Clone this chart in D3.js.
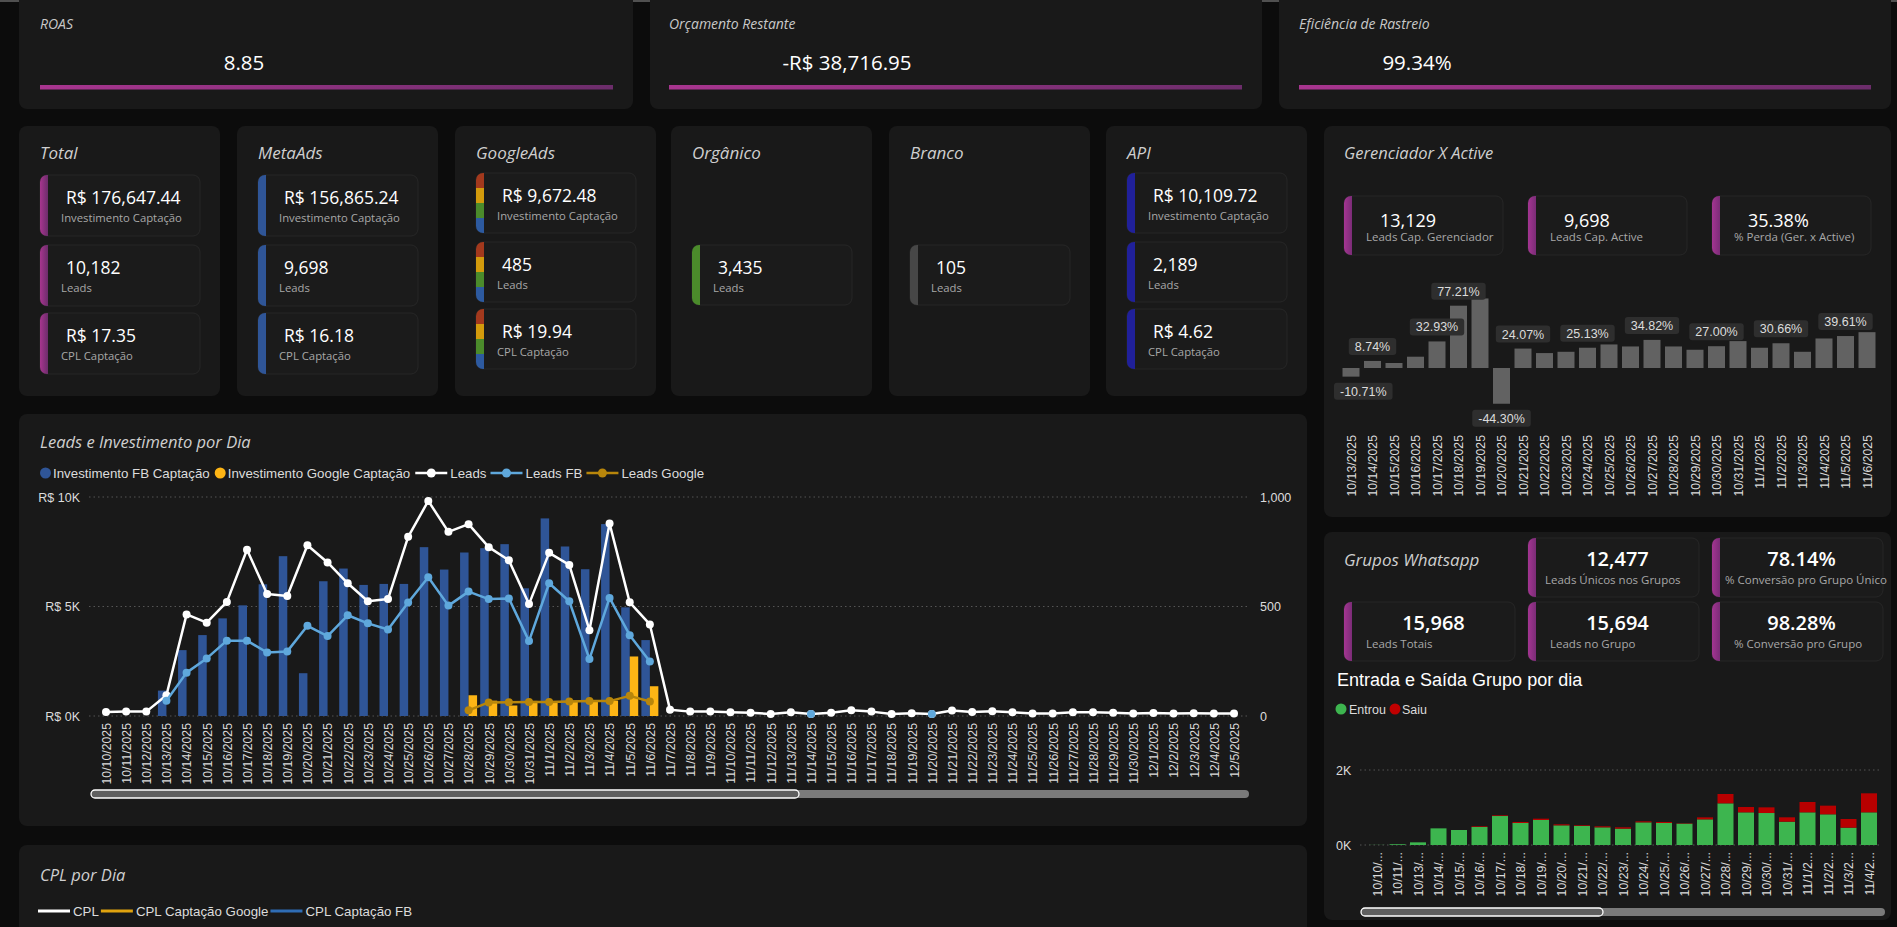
<!DOCTYPE html>
<html><head><meta charset="utf-8">
<script src="https://cdn.jsdelivr.net/npm/d3@7"></script>
<style>
body{margin:0;background:#0c0c0c;overflow:hidden}
svg{display:block}
</style></head><body><svg id="c" width="1897" height="927"></svg>
<script>
// ---------------- DATA ----------------
const topTitles = ["ROAS", "Orçamento Restante", "Eficiência de Rastreio"];
const topValues = ["8.85", "-R$ 38,716.95", "99.34%"];

const sourceNames  = ["Total", "MetaAds", "GoogleAds", "Orgânico", "Branco", "API"];
const sourceInvest = [176647.44, 156865.24, 9672.48, null, null, 10109.72];
const sourceLeads  = [10182, 9698, 485, 3435, 105, 2189];
const sourceCpl    = [17.35, 16.18, 19.94, null, null, 4.62];

const gerKpiValues = ["13,129", "9,698", "35.38%"];
const gerKpiLabels = ["Leads Cap. Gerenciador", "Leads Cap. Active", "% Perda (Ger. x Active)"];
const gerDates = ["10/13/2025","10/14/2025","10/15/2025","10/16/2025","10/17/2025","10/18/2025","10/19/2025","10/20/2025","10/21/2025","10/22/2025","10/23/2025","10/24/2025","10/25/2025","10/26/2025","10/27/2025","10/28/2025","10/29/2025","10/30/2025","10/31/2025","11/1/2025","11/2/2025","11/3/2025","11/4/2025","11/5/2025","11/6/2025"];
const gerPct = [-10.71, 8.74, 6.2, 14.0, 32.93, 77.21, 86.2, -44.30, 24.07, 18.5, 20.1, 25.13, 29.2, 26.7, 34.82, 26.7, 22.6, 27.00, 33.3, 25.1, 30.66, 20.1, 36.6, 39.61, 44.4];
const gerLabelShown = ["10/13/2025","10/14/2025","10/17/2025","10/18/2025","10/20/2025","10/21/2025","10/24/2025","10/27/2025","10/30/2025","11/2/2025","11/5/2025"];

const mainDates = ["10/10/2025","10/11/2025","10/12/2025","10/13/2025","10/14/2025","10/15/2025","10/16/2025","10/17/2025","10/18/2025","10/19/2025","10/20/2025","10/21/2025","10/22/2025","10/23/2025","10/24/2025","10/25/2025","10/26/2025","10/27/2025","10/28/2025","10/29/2025","10/30/2025","10/31/2025","11/1/2025","11/2/2025","11/3/2025","11/4/2025","11/5/2025","11/6/2025","11/7/2025","11/8/2025","11/9/2025","11/10/2025","11/11/2025","11/12/2025","11/13/2025","11/14/2025","11/15/2025","11/16/2025","11/17/2025","11/18/2025","11/19/2025","11/20/2025","11/21/2025","11/22/2025","11/23/2025","11/24/2025","11/25/2025","11/26/2025","11/27/2025","11/28/2025","11/29/2025","11/30/2025","12/1/2025","12/2/2025","12/3/2025","12/4/2025","12/5/2025"];
const leads = [18,20,20,95,464,426,521,759,557,548,780,701,606,524,534,818,982,841,876,771,711,511,745,690,392,879,519,418,29,20,20,17,15,9,17,9,15,26,20,9,12,9,25,18,22,17,11,11,17,17,15,11,14,11,12,11,11];
const leadsFB = [null,null,null,70,198,263,344,344,290,295,412,365,460,423,395,518,634,504,568,534,537,342,606,524,260,539,369,249,null,null,null,null,null,null,null,9,null,null,null,null,null,9,null,null,null,null,null,null,null,null,null,null,null,null,null,null,null];
const leadsGoogle = [null,null,null,null,null,null,null,null,null,null,null,null,null,null,null,null,null,null,26,62,63,64,64,66,68,68,92,66,null,null,null,null,null,null,null,null,null,null,null,null,null,null,null,null,null,null,null,null,null,null,null,null,null,null,null,null,null];
const investFB = [0,0,0,1160,3008,3695,4458,5053,6015,7298,1954,6153,6733,5985,6031,6031,7710,6687,7466,7664,7847,5832,9023,7740,6702,8763,4962,3466,0,0,0,0,0,0,0,0,0,0,0,0,0,0,0,0,0,0,0,0,0,0,0,0,0,0,0,0,0];
const investGoogle = [0,0,0,0,0,0,0,0,0,0,0,0,0,0,0,0,0,0,947,700,480,690,680,700,690,700,2718,1359,0,0,0,0,0,0,0,0,0,0,0,0,0,0,0,0,0,0,0,0,0,0,0,0,0,0,0,0,0];
const mainLeftTicks = [0, 5000, 10000];
const mainRightTicks = [0, 500, 1000];

const waKpiValues = ["12,477", "78.14%", "15,968", "15,694", "98.28%"];
const waKpiLabels = ["Leads Únicos nos Grupos", "% Conversão pro Grupo Único", "Leads Totais", "Leads no Grupo", "% Conversão pro Grupo"];
const groupDates = ["10/10/2025","10/11/2025","10/13/2025","10/14/2025","10/15/2025","10/16/2025","10/17/2025","10/18/2025","10/19/2025","10/20/2025","10/21/2025","10/22/2025","10/23/2025","10/24/2025","10/25/2025","10/26/2025","10/27/2025","10/28/2025","10/29/2025","10/30/2025","10/31/2025","11/1/2025","11/2/2025","11/3/2025","11/4/2025"];
const entrou = [3,20,71,444,400,480,773,587,667,524,507,471,436,604,587,569,684,1111,871,853,622,871,818,462,871];
const saiu   = [0,0,0,0,0,18,18,27,35,27,18,27,36,27,27,10,53,249,142,151,116,276,231,231,507];
const groupTicks = [0, 2000];

const cplLegend = ["CPL", "CPL Captação Google", "CPL Captação FB"];

// ---------------- DRAW ----------------
const svg = d3.select("#c");
const defs = svg.append("defs");
const FONT = "'Open Sans', 'Noto Sans', sans-serif";
const AX = "'Liberation Sans', Arial, sans-serif";
const PURPLE = "url(#pg)";

const g1 = defs.append("linearGradient").attr("id","pg").attr("x1",0).attr("x2",1).attr("y1",0).attr("y2",0);
g1.append("stop").attr("offset",0).attr("stop-color","#a8358f");
g1.append("stop").attr("offset",1).attr("stop-color","#6c2d6b");
const g2 = defs.append("linearGradient").attr("id","pb").attr("x1",0).attr("x2",1).attr("y1",0).attr("y2",0);
g2.append("stop").attr("offset",0).attr("stop-color","#a43592");
g2.append("stop").attr("offset",1).attr("stop-color","#7b2c77");

svg.append("rect").attr("width",1897).attr("height",927).attr("fill","#0c0c0c");
svg.append("rect").attr("width",1897).attr("height",2).attr("fill","#505050");

function card(x,y,w,h){
  svg.append("rect").attr("x",x).attr("y",y).attr("width",w).attr("height",h).attr("rx",8).attr("fill","#191919");
}
function txt(x,y,s,opt={}){
  return svg.append("text").attr("x",x).attr("y",y).text(s)
    .attr("font-family",opt.family||FONT).attr("font-size",opt.size||12)
    .attr("fill",opt.fill||"#fff").attr("font-style",opt.italic?"italic":"normal")
    .attr("font-weight",opt.weight||400).attr("text-anchor",opt.anchor||"start");
}
let clipId = 0;
function kpiBox(x,y,w,h,accent){
  const id = "cl"+(clipId++);
  defs.append("clipPath").attr("id",id).append("rect").attr("x",x).attr("y",y).attr("width",w).attr("height",h).attr("rx",7);
  svg.append("rect").attr("x",x).attr("y",y).attr("width",w).attr("height",h).attr("rx",7).attr("fill","#1b1b1b").attr("stroke","#272727");
  const g = svg.append("g").attr("clip-path",`url(#${id})`);
  if (Array.isArray(accent)) {
    accent.forEach((c,i)=>g.append("rect").attr("x",x).attr("y",y+i*h/accent.length).attr("width",8).attr("height",h/accent.length+0.5).attr("fill",c));
  } else {
    g.append("rect").attr("x",x).attr("y",y).attr("width",8).attr("height",h).attr("fill",accent);
  }
}

// top row
const topCards = [{x:19,w:614,tx:21,vc:244},{x:650,w:612,tx:19,vc:847},{x:1279,w:612,tx:20,vc:1417}];
topCards.forEach((c,i)=>{
  card(c.x,-10,c.w,119);
  txt(c.x+c.tx,29,topTitles[i],{size:14,italic:true,fill:"#c8c8c8"});
  txt(c.vc,70,topValues[i],{size:20.5,anchor:"middle"});
  svg.append("rect").attr("x",c.x+c.tx).attr("y",85).attr("width",c.w-c.tx-20).attr("height",4.5).attr("fill",PURPLE);
});

// source cards
const fmtMoney = v => "R$ " + d3.format(",.2f")(v);
const srcX = [19,237,455,671,889,1106];
const srcAccent = [PURPLE,"#2f5597",["#a3391d","#d39b0c","#4b8b2b","#2d5aa0"],"#4b8b2b","#474747","#20209a"];
sourceNames.forEach((n,i)=>{
  const cx = srcX[i];
  card(cx,126,201,270);
  txt(cx+21,159,n,{size:17,italic:true,fill:"#cfcfcf"});
  const bx = cx+21, bw = 160;
  const items = [];
  if (sourceInvest[i]!=null) items.push([fmtMoney(sourceInvest[i]),"Investimento Captação"]);
  items.push([d3.format(",")(sourceLeads[i]),"Leads"]);
  if (sourceCpl[i]!=null) items.push([fmtMoney(sourceCpl[i]),"CPL Captação"]);
  const tall = (i<2);
  let ys, h;
  if (items.length===1){ ys=[245]; h=60; }
  else if (tall){ ys=[175,245,313]; h=61; }
  else { ys=[173,242,309]; h=60; }
  items.forEach((it,k)=>{
    kpiBox(bx,ys[k],bw,h,srcAccent[i]);
    txt(bx+26,ys[k]+29,it[0],{size:17.5});
    txt(bx+21,ys[k]+47,it[1],{size:11.3,fill:"#a8a8a8"});
  });
});

// Gerenciador X Active
card(1324,126,567,391);
txt(1344,159,"Gerenciador X Active",{size:16.5,italic:true,fill:"#cfcfcf"});
[1344,1528,1712].forEach((bx,i)=>{
  kpiBox(bx,196,159,59,"url(#pb)");
  txt(bx+36,227,gerKpiValues[i],{size:18});
  txt(bx+22,241,gerKpiLabels[i],{size:11.5,fill:"#a8a8a8"});
});
{
  const x = d3.scalePoint().domain(gerDates).range([1351,1867]);
  const y = d3.scaleLinear().domain([-50,100]).range([408.35,287.3]);
  const bw = 17;
  svg.append("g").selectAll("rect").data(gerDates).join("rect")
    .attr("x",d=>x(d)-bw/2).attr("width",bw)
    .attr("y",(d,i)=>y(Math.max(0,gerPct[i])))
    .attr("height",(d,i)=>Math.abs(y(gerPct[i])-y(0)))
    .attr("fill","#626262");
  const lg = svg.append("g");
  gerDates.forEach((d,i)=>{
    if (!gerLabelShown.includes(d)) return;
    const v = gerPct[i];
    const t = lg.append("text").text(v.toFixed(2)+"%").attr("font-family",AX).attr("font-size",12.5).attr("fill","#dcdcdc").attr("text-anchor","middle");
    const tw = t.node().getComputedTextLength()+12, th = 17;
    let cx = Math.max(1334+tw/2, x(d));
    const top = v>=0 ? y(v)-6-th : y(v)+6;
    lg.insert("rect","text").attr("x",cx-tw/2).attr("y",top).attr("width",tw).attr("height",th).attr("rx",3).attr("fill","#2e2e2e");
    t.attr("x",cx).attr("y",top+th/2+4.5);
  });
  const ax = svg.append("g").attr("transform","translate(0,428)")
    .call(d3.axisBottom(x).tickSize(0));
  ax.select(".domain").remove();
  ax.selectAll("text").attr("font-family",AX).attr("font-size",12.3).attr("fill","#dcdcdc")
    .attr("transform","rotate(-90)").attr("text-anchor","end").attr("x",-7).attr("y",0).attr("dy","0.35em");
}

// Leads e Investimento por Dia
card(19,414,1288,412);
txt(40,448,"Leads e Investimento por Dia",{size:16.5,italic:true,fill:"#cfcfcf"});
{
  const lgItems = [
    {t:"Investimento FB Captação",type:"dot",c:"#2f5597"},
    {t:"Investimento Google Captação",type:"dot",c:"#fdb515"},
    {t:"Leads",type:"line",c:"#ffffff"},
    {t:"Leads FB",type:"line",c:"#5fa8dc"},
    {t:"Leads Google",type:"line",c:"#b8860b"}];
  let lx = 40; const ly = 473;
  lgItems.forEach(it=>{
    if (it.type==="dot"){
      svg.append("circle").attr("cx",lx+5.5).attr("cy",ly).attr("r",5.5).attr("fill",it.c);
      const t = txt(lx+13,ly+4.5,it.t,{family:AX,size:13.3,fill:"#dcdcdc"});
      lx = lx+13+t.node().getComputedTextLength()+5;
    } else {
      svg.append("line").attr("x1",lx).attr("x2",lx+32).attr("y1",ly).attr("y2",ly).attr("stroke",it.c).attr("stroke-width",2.5);
      svg.append("circle").attr("cx",lx+16).attr("cy",ly).attr("r",4.5).attr("fill",it.c);
      const t = txt(lx+35,ly+4.5,it.t,{family:AX,size:13.3,fill:"#dcdcdc"});
      lx = lx+35+t.node().getComputedTextLength()+4;
    }
  });

  const x = d3.scalePoint().domain(mainDates).range([106,1234]);
  const yI = d3.scaleLinear().domain([0,10000]).range([716,497]);
  const yL = d3.scaleLinear().domain([0,1000]).range([716,497]);
  svg.append("g").selectAll("line").data(mainLeftTicks).join("line")
    .attr("x1",89).attr("x2",1250).attr("y1",d=>yI(d)).attr("y2",d=>yI(d))
    .attr("stroke","#555").attr("stroke-dasharray","1.5,3");
  const la = svg.append("g").attr("transform","translate(84,0)")
    .call(d3.axisLeft(yI).tickValues(mainLeftTicks).tickSize(0).tickPadding(4).tickFormat(d=>"R$ "+(d/1000)+"K"));
  la.select(".domain").remove();
  la.selectAll("text").attr("font-family",AX).attr("font-size",12.5).attr("fill","#dcdcdc");
  const ra = svg.append("g").attr("transform","translate(1256,0)")
    .call(d3.axisRight(yL).tickValues(mainRightTicks).tickSize(0).tickPadding(4).tickFormat(d3.format(",")));
  ra.select(".domain").remove();
  ra.selectAll("text").attr("font-family",AX).attr("font-size",12.5).attr("fill","#dcdcdc");

  const bw = 8.5;
  svg.append("g").selectAll("rect").data(mainDates.map((d,i)=>({d,v:investFB[i]})).filter(o=>o.v>0)).join("rect")
    .attr("x",o=>x(o.d)-bw).attr("width",bw).attr("y",o=>yI(o.v)).attr("height",o=>yI(0)-yI(o.v)).attr("fill","#2f5597");
  svg.append("g").selectAll("rect").data(mainDates.map((d,i)=>({d,v:investGoogle[i]})).filter(o=>o.v>0)).join("rect")
    .attr("x",o=>x(o.d)).attr("width",bw).attr("y",o=>yI(o.v)).attr("height",o=>yI(0)-yI(o.v)).attr("fill","#fdb515");

  function series(vals,color){
    const pts = mainDates.map((d,i)=>({d,v:vals[i]}));
    const line = d3.line().defined(p=>p.v!=null).x(p=>x(p.d)).y(p=>yL(p.v));
    svg.append("path").datum(pts).attr("d",line).attr("fill","none").attr("stroke",color).attr("stroke-width",2.5).attr("stroke-linejoin","round");
    svg.append("g").selectAll("circle").data(pts.filter(p=>p.v!=null)).join("circle")
      .attr("cx",p=>x(p.d)).attr("cy",p=>yL(p.v)).attr("r",4).attr("fill",color);
  }
  series(leads,"#ffffff");
  series(leadsFB,"#5fa8dc");
  series(leadsGoogle,"#b8860b");

  const xa = svg.append("g").attr("transform","translate(0,716)").call(d3.axisBottom(x).tickSize(0));
  xa.select(".domain").remove();
  xa.selectAll("text").attr("font-family",AX).attr("font-size",12.3).attr("fill","#dcdcdc")
    .attr("transform","rotate(-90)").attr("text-anchor","end").attr("x",-7).attr("y",0).attr("dy","0.35em");

  svg.append("rect").attr("x",91).attr("y",790).attr("width",1158).attr("height",8).attr("rx",4).attr("fill","#7a7a7a");
  svg.append("rect").attr("x",91).attr("y",790).attr("width",708).attr("height",8).attr("rx",4).attr("fill","#5f5f5f").attr("stroke","#ffffff").attr("stroke-width",1.3);
}

// CPL por Dia
card(19,845,1288,100);
txt(40,881,"CPL por Dia",{size:16.5,italic:true,fill:"#cfcfcf"});
{
  const cols = ["#ffffff","#e0a30f","#2f6db5"];
  let lx = 38; const ly = 911;
  cplLegend.forEach((s,i)=>{
    svg.append("line").attr("x1",lx).attr("x2",lx+32).attr("y1",ly).attr("y2",ly).attr("stroke",cols[i]).attr("stroke-width",3);
    const t = txt(lx+35,ly+4.5,s,{family:AX,size:13.3,fill:"#dcdcdc"});
    lx = lx+35+t.node().getComputedTextLength()+2;
  });
}

// Grupos Whatsapp
card(1324,532,567,388);
txt(1344,566,"Grupos Whatsapp",{size:17,italic:true,fill:"#cfcfcf"});
{
  const boxes = [{x:1528,y:538,lo:17},{x:1712,y:538,lo:13},{x:1344,y:602,lo:22},{x:1528,y:602,lo:22},{x:1712,y:602,lo:22}];
  boxes.forEach((b,i)=>{
    kpiBox(b.x,b.y,171,59,"url(#pb)");
    txt(b.x+(171+8)/2,b.y+28,waKpiValues[i],{size:20,weight:600,anchor:"middle"});
    txt(b.x+b.lo,b.y+46,waKpiLabels[i],{size:11.5,fill:"#a8a8a8"});
  });
  txt(1337,686,"Entrada e Saída Grupo por dia",{family:AX,size:18,fill:"#ffffff"});
  svg.append("circle").attr("cx",1341).attr("cy",709).attr("r",5.5).attr("fill","#3db54f");
  txt(1349,713.5,"Entrou",{family:AX,size:12.5,fill:"#dcdcdc"});
  svg.append("circle").attr("cx",1395).attr("cy",709).attr("r",5.5).attr("fill","#c00000");
  txt(1402,713.5,"Saiu",{family:AX,size:12.5,fill:"#dcdcdc"});

  const x = d3.scalePoint().domain(groupDates).range([1377,1869]);
  const y = d3.scaleLinear().domain([0,2000]).range([845,770]);
  svg.append("g").selectAll("line").data(groupTicks).join("line")
    .attr("x1",1360).attr("x2",1881).attr("y1",d=>y(d)).attr("y2",d=>y(d))
    .attr("stroke","#555").attr("stroke-dasharray","1.5,3");
  svg.append("g").selectAll("text").data(groupTicks).join("text")
    .attr("x",1336).attr("y",d=>y(d)+4.5).text(d=>(d/1000)+"K")
    .attr("font-family",AX).attr("font-size",12.5).attr("fill","#dcdcdc");
  const bw = 16;
  const stack = d3.stack().keys(["entrou","saiu"])(groupDates.map((d,i)=>({d,entrou:entrou[i],saiu:saiu[i]})));
  const cols = {entrou:"#3db54f",saiu:"#b80000"};
  stack.forEach(layer=>{
    svg.append("g").selectAll("rect").data(layer).join("rect")
      .attr("x",s=>x(s.data.d)-bw/2).attr("width",bw)
      .attr("y",s=>y(s[1])).attr("height",s=>y(s[0])-y(s[1]))
      .attr("fill",cols[layer.key]);
  });
  const xa = svg.append("g").attr("transform","translate(0,845)").call(d3.axisBottom(x).tickSize(0));
  xa.select(".domain").remove();
  xa.selectAll("text").attr("font-family",AX).attr("font-size",12.3).attr("fill","#dcdcdc")
    .attr("transform","rotate(-90)").attr("text-anchor","end").attr("x",-7).attr("y",0).attr("dy","0.35em")
    .each(function(d){
      const el = this; const full = d;
      if (el.getComputedTextLength() <= 47) return;
      let n = full.length;
      while (n>1){ el.textContent = full.slice(0,n)+"..."; if (el.getComputedTextLength()<=47) break; n--; }
    });
  svg.append("rect").attr("x",1361).attr("y",908).attr("width",524).attr("height",8).attr("rx",4).attr("fill","#7a7a7a");
  svg.append("rect").attr("x",1361).attr("y",908).attr("width",242).attr("height",8).attr("rx",4).attr("fill","#5f5f5f").attr("stroke","#ffffff").attr("stroke-width",1.3);
}
</script></body></html>
